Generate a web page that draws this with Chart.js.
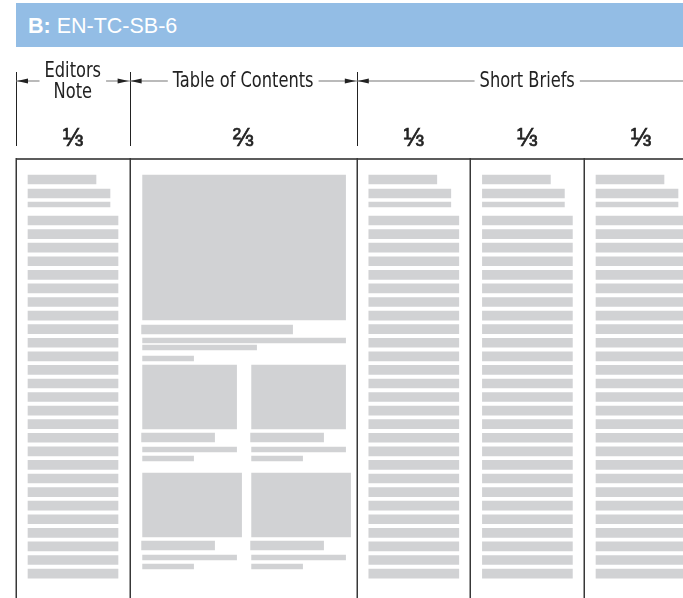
<!DOCTYPE html>
<html>
<head>
<meta charset="utf-8">
<script src="https://cdn.jsdelivr.net/npm/chart.js@4.4.1/dist/chart.umd.min.js"></script>
<style>
  body { margin: 0; background: #fff; }
  #wrap { position: relative; width: 683px; height: 598px; overflow: hidden; }
  #layoutChart { position: absolute; left: 0; top: 0; }
  .header {
    position: absolute; left: 16px; top: 3px; width: 655px; height: 44px;
    padding-left: 12px; background: #93bde5; color: #fff;
    font: 21.5px "Liberation Sans", Arial, sans-serif; line-height: 47px;
  }
</style>
</head>
<body>
<div id="wrap">
  <div class="header"><b>B:</b> EN-TC-SB-6</div>
  <canvas id="layoutChart" width="683" height="598"></canvas>
</div>
<script>
// Plan B: Editors Note, Table of Contents, 3 x Short Briefs
const columnNames = ["Editors Note", "Table of Contents", "Short Briefs 1", "Short Briefs 2", "Short Briefs 3"];
const columnThirds = [1, 2, 1, 1, 1];
const thirdLabels = ["⅓", "⅔", "⅓", "⅓", "⅓"];

const sectionLabels = [["Editors", "Note"], ["Table of Contents"], ["Short Briefs"]];
const sectionThirds = [1, 2, 3];

const textColumns = [0, 2, 3, 4];   // columns filled with running text
const bodyLineCount = 27;
const tocColumn = 1;
const tocSmallStories = 4;          // 2 x 2 under the lead story

// layout (one unit = one pixel of the page)
const THIRD = 113.6;
const LINE_PITCH = 13.58;
const GREY = "#d1d2d4";

function colStart(i) {
    let t = 0;
    for (let k = 0; k < i; k++) t += columnThirds[k];
    return t * THIRD;
}

// bars are grouped by thickness, one dataset per thickness
const byThickness = {};
function block(x0, x1, top, h) {
    if (!byThickness[h]) byThickness[h] = [];
    byThickness[h].push({ x: [x0, x1], y: top + h / 2 });
}

textColumns.forEach(function (c) {
    const s = colStart(c);
    block(s + 12, s + 80, 17, 9);     // headline
    block(s + 12, s + 94, 31, 9);     // deck
    block(s + 12, s + 94, 44, 5);
    for (let i = 0; i < bodyLineCount; i++) {
        block(s + 12, s + 102, 58 + i * LINE_PITCH, 9);
    }
});

// table of contents: lead story
const ts = colStart(tocColumn);
block(ts + 13, ts + 216, 17, 145);
block(ts + 12, ts + 163, 167, 9);
block(ts + 13, ts + 216, 180, 5);
block(ts + 13, ts + 127, 187, 5);
block(ts + 13, ts + 64, 198, 5);

// small stories
const storyCols = [13, 122];
const storyRows = [207, 315];
const storyImgW = [94, 99];
for (let n = 0; n < tocSmallStories; n++) {
    const r = Math.floor(n / 2), c = n % 2;
    const x = ts + storyCols[c], y = storyRows[r];
    block(x, x + storyImgW[r], y, 64);
    block(x - 1, x + 72, y + 68, 9);
    block(x, x + 94, y + 82, 5);
    block(x, x + 51, y + 91, 5);
}

const datasets = Object.keys(byThickness).map(function (h) {
    return {
        data: byThickness[h],
        barThickness: Number(h),
        backgroundColor: GREY,
        borderWidth: 0,
        grouped: false
    };
});

function arrowHead(ctx, x, y, dir) {
    ctx.beginPath();
    ctx.moveTo(x, y);
    ctx.lineTo(x - dir * 11, y - 2.5);
    ctx.lineTo(x - dir * 11, y + 2.5);
    ctx.closePath();
    ctx.fill();
}

// condensed label text (no narrow face installed, so squeeze it)
function narrowText(ctx, s, x, y) {
    ctx.save();
    ctx.translate(x, y);
    ctx.scale(0.86, 1);
    ctx.fillText(s, 0, 0);
    ctx.restore();
}

const pagePlan = {
    id: "pagePlan",
    afterDatasetsDraw(chart) {
        const ctx = chart.ctx;
        const xs = chart.scales.x, ys = chart.scales.y;
        const area = chart.chartArea;
        ctx.save();

        // top rule
        ctx.strokeStyle = "#5c5c5c";
        ctx.lineWidth = 2;
        ctx.beginPath();
        ctx.moveTo(area.left, ys.getPixelForValue(0) + 1);
        ctx.lineTo(area.right, ys.getPixelForValue(0) + 1);
        ctx.stroke();

        // column dividers + fractions
        ctx.fillStyle = "#222";
        ctx.font = '25px "Liberation Sans", Arial, sans-serif';
        ctx.textAlign = "center";
        ctx.textBaseline = "middle";
        for (let i = 0; i < columnThirds.length; i++) {
            const px = Math.round(xs.getPixelForValue(colStart(i))) + 0.25;
            ctx.strokeStyle = "#383838";
            ctx.lineWidth = 1.5;
            ctx.beginPath();
            ctx.moveTo(px, ys.getPixelForValue(0));
            ctx.lineTo(px, area.bottom);
            ctx.stroke();
            const cx = xs.getPixelForValue(colStart(i) + columnThirds[i] * THIRD / 2);
            const cy = ys.getPixelForValue(-19);
            ctx.fillText(thirdLabels[i], cx, cy);
            ctx.strokeStyle = "#222";
            ctx.lineWidth = 0.6;
            ctx.strokeText(thirdLabels[i], cx, cy);
        }

        // section dimension lines
        ctx.font = '21px "Liberation Sans Narrow", "Arial Narrow", "DejaVu Sans Condensed", sans-serif';
        let t = 0;
        const dimY = ys.getPixelForValue(-77);
        sectionLabels.forEach(function (lines, i) {
            const a = xs.getPixelForValue(t * THIRD);
            t += sectionThirds[i];
            const b = xs.getPixelForValue(t * THIRD);
            const cx = (a + b) / 2;
            let w = 0;
            lines.forEach(function (s) { w = Math.max(w, ctx.measureText(s).width * 0.86); });

            ctx.strokeStyle = "#222";
            ctx.lineWidth = 1;
            ctx.beginPath();
            ctx.moveTo(Math.round(a) + 0.5, ys.getPixelForValue(-86));
            ctx.lineTo(Math.round(a) + 0.5, ys.getPixelForValue(-12));
            ctx.stroke();

            ctx.strokeStyle = "#777";
            ctx.lineWidth = 1.2;
            ctx.beginPath();
            ctx.moveTo(a, dimY);
            ctx.lineTo(cx - w / 2 - 5, dimY);
            ctx.moveTo(cx + w / 2 + 5, dimY);
            ctx.lineTo(b, dimY);
            ctx.stroke();

            ctx.fillStyle = "#222";
            arrowHead(ctx, a + 1, dimY, -1);
            arrowHead(ctx, b - 1, dimY, 1);

            if (lines.length === 1) {
                narrowText(ctx, lines[0], cx, dimY + 1);
            } else {
                narrowText(ctx, lines[0], cx, dimY - 9);
                narrowText(ctx, lines[1], cx, dimY + 12);
            }
        });
        ctx.restore();
    }
};

new Chart(document.getElementById("layoutChart"), {
    type: "bar",
    data: { datasets: datasets },
    options: {
        indexAxis: "y",
        responsive: false,
        animation: false,
        layout: { padding: { top: 158, left: 16, right: 0, bottom: 0 } },
        scales: {
            x: { type: "linear", min: 0, max: 667, display: false, offset: false },
            y: { type: "linear", min: 0, max: 440, reverse: true, display: false, offset: false }
        },
        plugins: { legend: { display: false }, tooltip: { enabled: false } }
    },
    plugins: [pagePlan]
});
</script>
</body>
</html>
